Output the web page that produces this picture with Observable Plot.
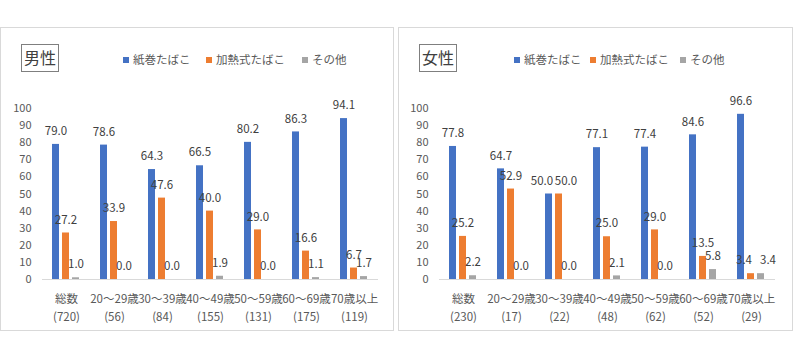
<!DOCTYPE html>
<html><head><meta charset="utf-8">
<script src="https://cdn.jsdelivr.net/npm/d3@7"></script>
<script src="https://cdn.jsdelivr.net/npm/@observablehq/plot@0.6"></script>
<style>
body{margin:0;background:#fff;font-family:"Noto Sans CJK JP","Noto Sans",sans-serif;}
#wrap{position:relative;width:793px;height:359px;overflow:hidden;}
.panel{position:absolute;top:27px;height:304px;border:1px solid #d9d9d9;box-sizing:border-box;background:#fff;}
.title{position:absolute;left:20px;top:16px;width:38px;height:28px;border:1.5px solid #7f7f7f;box-sizing:border-box;font-size:16px;line-height:24px;text-align:center;color:#404040;}
.leg{position:absolute;top:23px;font-size:11.5px;color:#595959;white-space:nowrap;line-height:16px;}
.sw{display:inline-block;width:6px;height:6px;margin-right:4px;vertical-align:middle;position:relative;top:-1px;}
.chart{position:absolute;left:0;top:58px;}
</style></head>
<body><div id="wrap"></div>
<script>
const categories = ["総数","20～29歳","30～39歳","40～49歳","50～59歳","60～69歳","70歳以上"];
const series = ["紙巻たばこ","加熱式たばこ","その他"];
const colors = ["#4472C4","#ED7D31","#A5A5A5"];
const yTicks = [0,10,20,30,40,50,60,70,80,90,100];
const maleCounts = [720,56,84,155,131,175,119];
const femaleCounts = [230,17,22,48,62,52,29];
const maleCig = [79.0,78.6,64.3,66.5,80.2,86.3,94.1];
const maleHeated = [27.2,33.9,47.6,40.0,29.0,16.6,6.7];
const maleOther = [1.0,0.0,0.0,1.9,0.0,1.1,1.7];
const femaleCig = [77.8,64.7,50.0,77.1,77.4,84.6,96.6];
const femaleHeated = [25.2,52.9,50.0,25.0,29.0,13.5,3.4];
const femaleOther = [2.2,0.0,0.0,2.1,0.0,5.8,3.4];

function panel(opts){
  const {left, width, title, counts, vals, legendX, marginRight} = opts;
  const div = document.createElement("div");
  div.className = "panel";
  div.style.left = left + "px";
  div.style.width = width + "px";
  const t = document.createElement("div");
  t.className = "title"; t.textContent = title;
  div.appendChild(t);
  series.forEach((s,j)=>{
    const l = document.createElement("div");
    l.className = "leg";
    l.style.left = legendX[j] + "px";
    l.innerHTML = `<span class="sw" style="background:${colors[j]}"></span>${s}`;
    div.appendChild(l);
  });
  const data = categories.flatMap((c,i)=>series.map((s,j)=>({cat:c, series:s, value:vals[j][i], shift:0})));
  // simple label collision avoidance: adjacent labels at (nearly) the same height are pushed apart
  for (let i = 0; i < categories.length; i++) {
    for (let j = 0; j < 2; j++) {
      const a = data[i*3+j], b = data[i*3+j+1];
      if (Math.abs(a.value - b.value) < 3.5 && b.value > 0) { a.shift = -7; b.shift = 7; }
    }
  }
  const countMap = new Map(categories.map((c,i)=>[c, `${c}\n(${counts[i]})`]));
  const innerW = width - 2;
  const labelMark = (s) => Plot.text(data.filter(d => d.shift === s), {fx: "cat", x: "series", y: "value", text: d => d.value.toFixed(1), dy: -13, dx: s, fill: "#404040", fontSize: 11.5});
  const chart = Plot.plot({
    width: innerW, height: 242,
    marginTop: 22, marginBottom: 49, marginLeft: 39, marginRight,
    style: {fontFamily: '"Noto Sans CJK JP","Noto Sans",sans-serif', color:"#595959", background:"transparent"},
    fx: {domain: categories, padding: 0, label: null, axis: null},
    x: {domain: series, paddingInner: 0.27, paddingOuter: 0.85, axis: null},
    y: {domain: [0,100], label: null, axis: null},
    color: {domain: series, range: colors},
    marks: [
      Plot.axisY({ticks: yTicks, tickSize: 0, tickPadding: 11, label: null, fontSize: 11, fill:"#595959"}),
      Plot.axisFx({anchor: "bottom", tickSize: 0, tickPadding: 11, label: null, fontSize: 11.5, lineHeight: 1.55, fill:"#595959",
        tickFormat: d => countMap.get(d)}),
      Plot.ruleY([0], {stroke: "#d9d9d9"}),
      Plot.barY(data, {fx: "cat", x: "series", y: "value", fill: "series"}),
      labelMark(0), labelMark(-7), labelMark(7)
    ]
  });
  chart.classList.add("chart");
  div.appendChild(chart);
  document.getElementById("wrap").appendChild(div);
}
panel({left:0, width:394, title:"男性", counts:maleCounts, vals:[maleCig,maleHeated,maleOther], legendX:[122,205,301], marginRight:13});
panel({left:398, width:395, title:"女性", counts:femaleCounts, vals:[femaleCig,femaleHeated,femaleOther], legendX:[115,191,281], marginRight:17});
</script></body></html>
